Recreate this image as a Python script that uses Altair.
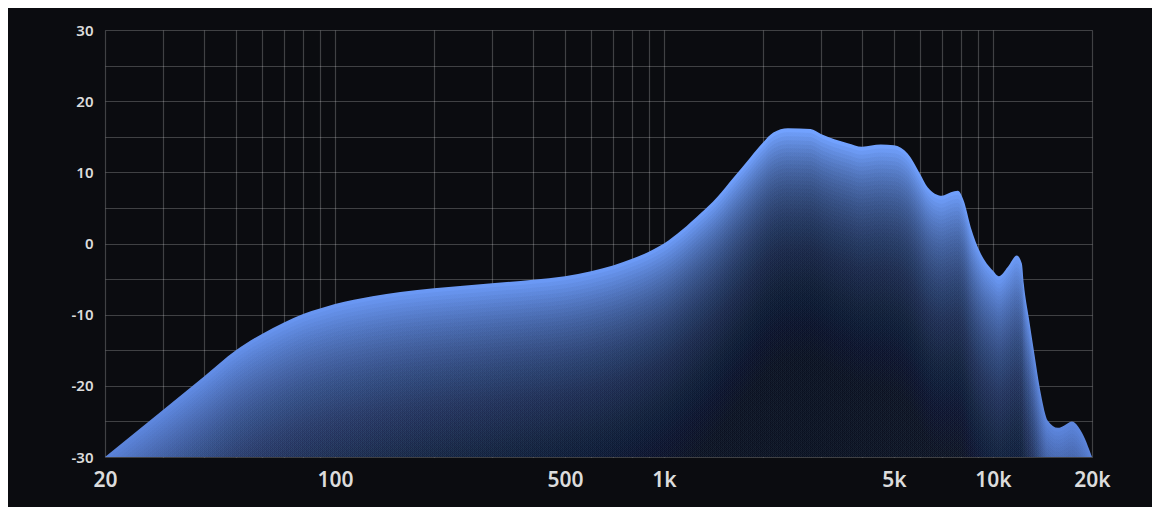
import altair as alt
import pandas as pd

# ---- data ----
freq = [20, 30, 40, 50, 60, 70, 80, 90, 100, 130, 158, 200, 300, 400, 500, 600,
        700, 800, 900, 1000, 1290, 1450, 1630, 1830, 2000, 2150, 2380, 2790, 3000,
        3620, 4000, 4560, 5000, 5510, 6000, 6330, 7000, 7450, 7820, 8150, 8560,
        9180, 9990, 10420, 11090, 11820, 12240, 12410, 12850, 13310, 13980, 14680,
        15750, 16430, 17370, 18500, 20000]
db = [-30, -23.4, -18.7, -15.0, -12.7, -11.1, -9.9, -9.15, -8.5, -7.4, -6.8, -6.3,
      -5.6, -5.1, -4.6, -3.9, -3.1, -2.15, -1.15, 0.0, 4.2, 6.5, 9.3, 12.1, 14.2,
      15.6, 16.2, 16.1, 15.4, 14.1, 13.6, 13.9, 13.8, 12.6, 9.8, 7.9, 6.7, 7.2,
      7.4, 6.0, 2.3, -1.4, -3.8, -4.6, -3.3, -1.7, -2.8, -5.7, -10.4, -15.0,
      -21.1, -24.9, -25.9, -25.6, -25.0, -26.3, -30]

x_grid = [20, 30, 40, 50, 60, 70, 80, 90, 100, 200, 300, 400, 500, 600, 700, 800,
          900, 1000, 2000, 3000, 4000, 5000, 6000, 7000, 8000, 9000, 10000, 20000]
x_labels = [20, 100, 500, 1000, 5000, 10000, 20000]
y_grid = [-30, -25, -20, -15, -10, -5, 0, 5, 10, 15, 20, 25, 30]
y_labels = [-30, -20, -10, 0, 10, 20, 30]

df = pd.DataFrame({"freq": freq, "db": db})

FONT = "Noto Sans"
BG = "#0b0c10"
x_cond = " || ".join(f"datum.value == {v}" for v in x_labels)
y_cond = " || ".join(f"datum.value == {v}" for v in y_labels)

x_enc = alt.X(
    "freq:Q",
    scale=alt.Scale(type="log", domain=[20, 20000], nice=False),
    axis=alt.Axis(
        values=x_grid, title=None, ticks=False, domain=False, grid=True,
        labelOverlap=False, labelFlush=False,
        labelExpr=(f"({x_cond}) ? "
                   "(datum.value >= 1000 ? (datum.value/1000) + 'k' : '' + datum.value) : ''"),
        labelFontSize=21, labelFontWeight=600, labelPadding=12,
    ),
)
y_enc = alt.Y(
    "db:Q",
    scale=alt.Scale(domain=[-30, 30], nice=False, zero=False),
    axis=alt.Axis(
        values=y_grid, title=None, ticks=False, domain=False, grid=True,
        labelOverlap=False, labelFlush=False,
        labelExpr=f"({y_cond}) ? '' + datum.value : ''",
        labelFontSize=15, labelFontWeight=600, labelPadding=12,
    ),
)
y2_enc = alt.Y2(datum=-30)

base_fill = alt.Gradient(
    gradient="linear", x1=0, x2=0, y1=0, y2=1,
    stops=[alt.GradientStop(color="#72a2ff", offset=0),
           alt.GradientStop(color="#6a98f4", offset=0.5),
           alt.GradientStop(color="#5a82d8", offset=1)],
)
base = alt.Chart(df).mark_area(interpolate="monotone", clip=True, fill=base_fill).encode(
    x=x_enc, y=y_enc, y2=y2_enc
)

def shade(a):
    return f"rgba(6,14,30,{a})"

shade_fill = alt.Gradient(
    gradient="linear", x1=0, x2=1, y1=0, y2=0,
    stops=[alt.GradientStop(color=shade(0.026), offset=0),
           alt.GradientStop(color=shade(0.030), offset=0.25),
           alt.GradientStop(color=shade(0.045), offset=0.55),
           alt.GradientStop(color=shade(0.052), offset=0.72),
           alt.GradientStop(color=shade(0.026), offset=1)],
)
layers = [base]
for k in range(1, 84):
    layers.append(
        alt.Chart(df).mark_area(interpolate="monotone", clip=True, fill=shade_fill,
                                yOffset=4 * k).encode(x=x_enc, y=y_enc, y2=y2_enc)
    )

chart = alt.layer(*layers).properties(
    width=987, height=427,
    autosize=alt.AutoSizeParams(type="none"),
    padding={"left": 97, "top": 22, "right": 60, "bottom": 50},
    background=BG,
).configure_view(stroke=None).configure_axis(
    gridColor="#ffffff", gridOpacity=0.22, gridWidth=1.2, zindex=1,
    labelColor="#dcdcdc", labelFont=FONT,
)

chart.save("out.html", embed_options={"renderer": "svg", "actions": False})
